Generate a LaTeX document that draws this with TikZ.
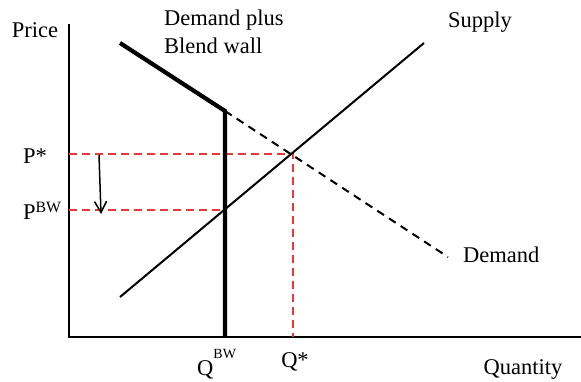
\documentclass[tikz,border=0pt]{standalone}
\usepackage{fontspec}
\setmainfont{Liberation Serif}
\usetikzlibrary{arrows.meta,positioning}
\definecolor{guidered}{HTML}{E8383A}

\begin{document}
\begin{tikzpicture}[
    x=1pt, y=-1pt,
    lbl/.style={font=\fontsize{22.5}{28}\selectfont, inner sep=0pt},
    axis/.style={line width=2pt},
    wall/.style={line width=4.2pt},
    supplyline/.style={line width=2pt},
    demandline/.style={line width=2pt, dash pattern=on 8pt off 6pt},
    guide/.style={line width=1.8pt, guidered, dash pattern=on 8pt off 5pt},
    arrow/.style={-{Straight Barb[length=11pt, width=12pt]}, line width=1.5pt}
]
\useasboundingbox (0,0) rectangle (581,382);

% Axes
\coordinate (origin) at (69, 337);
\coordinate (ytop) at (69, 24);
\coordinate (xend) at (581, 337);
\draw[axis] (ytop) -- (origin) -- (xend);

% Key points
\coordinate (dtop) at (120, 43);
\coordinate (kink) at (225, 111);
\coordinate (qbw) at (225, 337);
\coordinate (dend) at (448, 257);
\coordinate (sbot) at (120, 297);
\coordinate (stop) at (424, 43);
\coordinate (eq) at (293, 154);
\coordinate (bw) at (225, 210);
\coordinate (pstar) at (69, 154);
\coordinate (pbw) at (69, 210);
\coordinate (qstar) at (293, 337);

% Red guide lines
\draw[guide] (pstar) -- (eq) -- (qstar);
\draw[guide] (pbw) -- (bw);

% Demand plus blend wall
\draw[wall, line join=miter] (dtop) -- (kink) -- (qbw);

% Demand (dashed)
\draw[demandline] (kink) -- (dend);

% Supply
\draw[supplyline] (sbot) -- (stop);

% Price drop arrow
\coordinate (arrtop) at (99, 155);
\coordinate (arrbot) at (101, 214);
\draw[arrow] (arrtop) -- (arrbot);

% Labels
\node[lbl] (price) at (35, 30) {Price};
\node[lbl, anchor=north west, align=left] (blend) at (164, 10) {Demand plus\\Blend wall};
\node[lbl] (supply) at (480, 22) {Supply};
\node[lbl, anchor=west] (demand) at (463, 255) {Demand};
\node[lbl, anchor=west] (plabel) at (23, 156) {P*};
\node[lbl, anchor=west] (pbwlabel) at (23, 211) {P\textsuperscript{BW}};
\node[lbl, anchor=base west] (qbwlabel) at (197, 375) {Q\raisebox{0.75em}{\fontsize{14}{14}\selectfont BW}};
\node[lbl] (qlabel) at (295, 362) {Q*};
\node[lbl] (quantity) at (523, 369) {Quantity};

\end{tikzpicture}
\end{document}
